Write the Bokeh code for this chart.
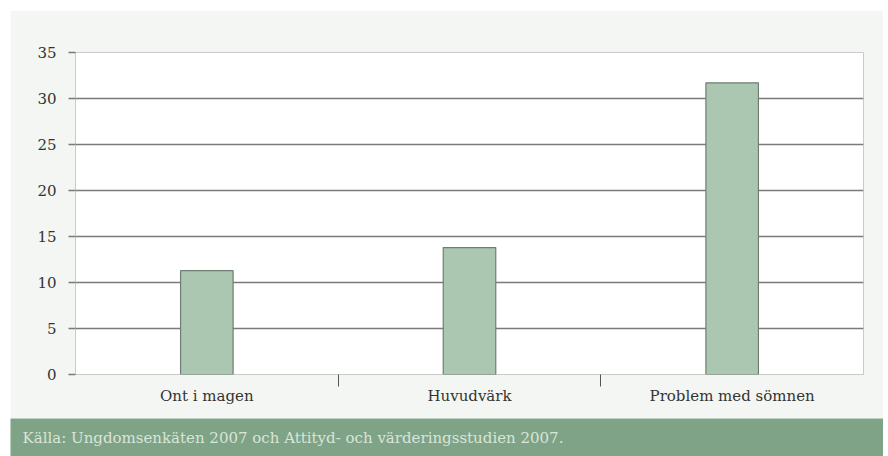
from bokeh.plotting import figure
from bokeh.models import FixedTicker, Range1d, Label, ColumnDataSource
from bokeh.layouts import column, row
from bokeh.embed import file_html
from bokeh.resources import INLINE

categories = ["Ont i magen", "Huvudvärk", "Problem med sömnen"]
values = [11.3, 13.8, 31.7]
y_ticks = [0, 5, 10, 15, 20, 25, 30, 35]
source_text = "Källa: Ungdomsenkäten 2007 och Attityd- och värderingsstudien 2007."

SERIF = "DejaVu Serif"
BG = "#f3f6f2"

xpos = [i + 0.5 for i in range(len(categories))]
src = ColumnDataSource(dict(x=xpos, top=values))

p = figure(width=873, height=408, x_range=Range1d(0, len(categories)),
           y_range=Range1d(0, 35), output_backend="svg", toolbar_location=None,
           min_border_left=65, min_border_right=20, min_border_top=42,
           min_border_bottom=44)
p.background_fill_color = "white"
p.border_fill_color = BG
p.outline_line_color = "#c9cbc8"
p.outline_line_width = 1

p.vbar(x="x", top="top", bottom=0, width=0.2, source=src,
       fill_color="#abc7b1", line_color="#6e7f71", line_width=1.2)

# y axis
p.yaxis.ticker = FixedTicker(ticks=y_ticks)
p.yaxis.axis_line_color = None
p.yaxis.major_tick_out = 7
p.yaxis.major_tick_in = 0
p.yaxis.major_tick_line_color = "#7a7a7a"
p.yaxis.major_tick_line_width = 1.5
p.yaxis.minor_tick_line_color = None
p.yaxis.major_label_text_font = SERIF
p.yaxis.major_label_text_font_size = "15px"
p.yaxis.major_label_text_color = "#333333"
p.yaxis.major_label_standoff = 12

p.ygrid.ticker = FixedTicker(ticks=y_ticks[1:-1])
p.ygrid.grid_line_color = "#7a7a7a"
p.ygrid.grid_line_width = 1.5
p.xgrid.grid_line_color = None

# x axis: labels at centers, tick marks between categories
bounds = [float(i) for i in range(1, len(categories))]
p.xaxis.ticker = FixedTicker(ticks=xpos, minor_ticks=bounds)
p.xaxis.major_label_overrides = {x: c for x, c in zip(xpos, categories)}
p.xaxis.axis_line_color = None
p.xaxis.major_tick_line_color = None
p.xaxis.major_tick_out = 0
p.xaxis.major_tick_in = 0
p.xaxis.minor_tick_line_color = "#555555"
p.xaxis.minor_tick_out = 12
p.xaxis.minor_tick_in = 0
p.xaxis.major_label_text_font = SERIF
p.xaxis.major_label_text_font_size = "15px"
p.xaxis.major_label_text_color = "#333333"
p.xaxis.major_label_standoff = 0

f = figure(width=873, height=38, x_range=Range1d(0, 1), y_range=Range1d(0, 1),
           output_backend="svg", toolbar_location=None,
           x_axis_location=None, y_axis_location=None, min_border=0)
f.grid.visible = False
f.outline_line_color = None
f.background_fill_color = "#7fa386"
f.border_fill_color = "#7fa386"
f.add_layout(Label(x=12, y=19, x_units="screen", y_units="screen",
                   text=source_text, text_font=SERIF, text_font_size="15px",
                   text_color="#d9e5d8", text_baseline="middle"))

layout = column(p, row(f, spacing=0), spacing=0, margin=(10, 0, 0, 10))
open("out.html", "w").write(file_html(layout, INLINE))
